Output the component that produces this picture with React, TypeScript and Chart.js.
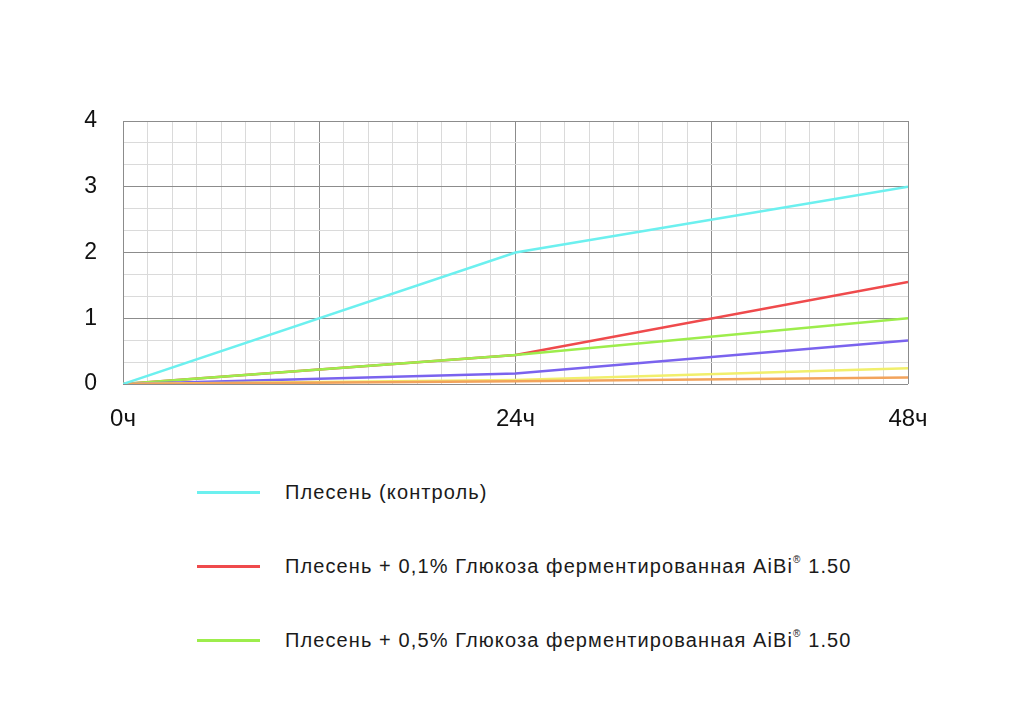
import { useEffect, useRef } from 'react'
import { Chart, registerables } from 'chart.js'

Chart.register(...registerables)

// hours since inoculation
const hours = [0, 24, 48]

// mould growth
const mouldControl = [0, 2.0, 3.0]
const glucose01 = [0, 0.44, 1.55]
const glucose05 = [0, 0.44, 1.0]
const seriesPurple = [0, 0.16, 0.66]
const seriesYellow = [0, 0.06, 0.24]
const seriesOrange = [0, 0.04, 0.1]

const xLabelHours = [0, 24, 48]
const xTickLabels = ['0ч', '24ч', '48ч']
const yTickLabels = ['0', '1', '2', '3', '4']

const legendLabels = [
  'Плесень (контроль)',
  'Плесень + 0,1% Глюкоза ферментированная AiBi',
  'Плесень + 0,5% Глюкоза ферментированная AiBi',
]

const colors = {
  cyan: '#6cf0ef',
  red: '#ef4a4c',
  green: '#9ded4c',
  purple: '#7a63ee',
  yellow: '#f1ef6c',
  orange: '#f2a35c',
}

const MAJOR = '#8c8c8c'
const MINOR = '#dadada'
const FONT = "'Liberation Sans', Arial, Helvetica, sans-serif"

const toPoints = (values: number[]) => values.map((y, i) => ({ x: hours[i], y }))

export default function App() {
  const canvasRef = useRef<HTMLCanvasElement>(null)

  useEffect(() => {
    if (!canvasRef.current) return

    const line = (label: string, values: number[], color: string, order: number) => ({
      label,
      data: toPoints(values),
      borderColor: color,
      backgroundColor: color,
      borderWidth: 2.5,
      pointRadius: 0,
      tension: 0,
      order,
    })

    const chart = new Chart(canvasRef.current, {
      type: 'line',
      data: {
        datasets: [
          line(legendLabels[0], mouldControl, colors.cyan, 0),
          line(legendLabels[1], glucose01, colors.red, 5),
          line(legendLabels[2], glucose05, colors.green, 4),
          line('purple', seriesPurple, colors.purple, 3),
          line('yellow', seriesYellow, colors.yellow, 2),
          line('orange', seriesOrange, colors.orange, 1),
        ],
      },
      options: {
        responsive: true,
        maintainAspectRatio: false,
        animation: false,
        layout: { padding: { top: 113, right: 108, left: 0, bottom: 0 } },
        plugins: { legend: { display: false }, tooltip: { enabled: false } },
        scales: {
          x: {
            type: 'linear',
            min: 0,
            max: 48,
            afterBuildTicks: (axis) => {
              axis.ticks = Array.from({ length: 33 }, (_, i) => ({ value: i * 1.5 }))
            },
            afterFit: (scale) => {
              scale.height = 71
            },
            ticks: {
              autoSkip: false,
              maxRotation: 0,
              padding: 21,
              color: '#111',
              font: { family: FONT, size: 24 },
              callback: (v) => {
                const idx = xLabelHours.indexOf(Number(v))
                return idx >= 0 ? xTickLabels[idx] : ''
              },
            },
            grid: {
              drawTicks: false,
              color: (ctx) => (ctx.tick && ctx.tick.value % 12 === 0 ? MAJOR : MINOR),
              lineWidth: 1,
            },
            border: { display: false },
          },
          y: {
            min: 0,
            max: 4,
            afterBuildTicks: (axis) => {
              axis.ticks = Array.from({ length: 13 }, (_, i) => ({ value: i / 3 }))
            },
            afterFit: (scale) => {
              scale.width = 115
            },
            ticks: {
              autoSkip: false,
              padding: 26,
              color: '#111',
              font: { family: FONT, size: 23 },
              callback: (v) => {
                const n = Number(v)
                const r = Math.round(n)
                return Math.abs(n - r) < 1e-6 ? yTickLabels[r] : ''
              },
            },
            grid: {
              drawTicks: false,
              color: (ctx) => {
                const v = ctx.tick ? ctx.tick.value : 0
                return Math.abs(v - Math.round(v)) < 1e-6 ? MAJOR : MINOR
              },
              lineWidth: 1,
            },
            border: { color: MAJOR },
          },
        },
      },
    })

    return () => chart.destroy()
  }, [])

  const legendItems = [
    { color: colors.cyan, label: legendLabels[0], reg: false },
    { color: colors.red, label: legendLabels[1], reg: true },
    { color: colors.green, label: legendLabels[2], reg: true },
  ]

  return (
    <div style={{ width: 1008, fontFamily: FONT }}>
      <div style={{ position: 'relative', width: 1008, height: 447 }}>
        <canvas ref={canvasRef} />
      </div>
      <div style={{ marginLeft: 189 }}>
        {legendItems.map((item) => (
          <div key={item.label} style={{ display: 'flex', alignItems: 'center', height: 74 }}>
            <div style={{ width: 63, height: 3, background: item.color, marginRight: 25 }} />
            <span style={{ fontSize: 20, letterSpacing: 1.1, color: '#1a1a1a', whiteSpace: 'nowrap' }}>
              {item.label}
              {item.reg && (
                <>
                  <sup style={{ fontSize: 10, verticalAlign: 'top', position: 'relative', top: -1 }}>®</sup>
                  {' 1.50'}
                </>
              )}
            </span>
          </div>
        ))}
      </div>
    </div>
  )
}
